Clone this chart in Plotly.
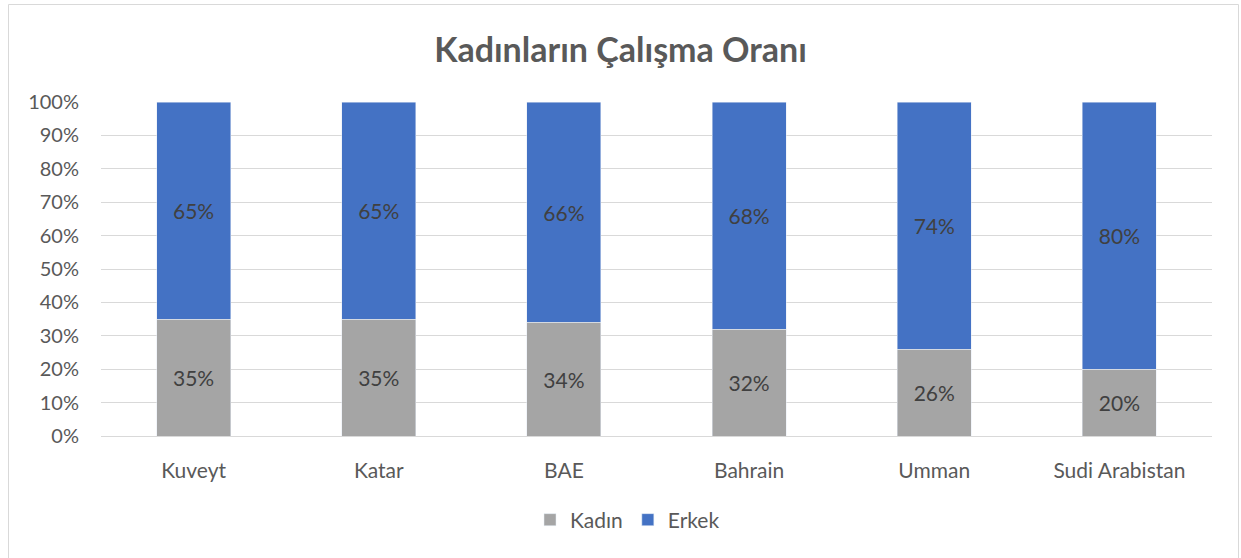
import plotly.graph_objects as go

categories = ["Kuveyt", "Katar", "BAE", "Bahrain", "Umman", "Sudi Arabistan"]
kadin = [35, 35, 34, 32, 26, 20]
erkek = [65, 65, 66, 68, 74, 80]
ytick_vals = [0, 10, 20, 30, 40, 50, 60, 70, 80, 90, 100]
ytick_text = [f"{v}%" for v in ytick_vals]

W, H = 1241, 558
L, R, T, B = 101, 29, 102, 122
pw, ph = W - L - R, H - T - B

FONT = "Lato, 'Noto Sans', sans-serif"

fig = go.Figure()
fig.add_trace(go.Bar(
    x=categories, y=kadin, name="Kadın", marker_color="#A5A5A5",
    text=[f"{v}%" for v in kadin], textposition="inside",
    insidetextanchor="middle", textfont=dict(size=21, color="#404040", family=FONT),
))
fig.add_trace(go.Bar(
    x=categories, y=erkek, name="Erkek", marker_color="#4472C4",
    text=[f"{v}%" for v in erkek], textposition="inside",
    insidetextanchor="middle", textfont=dict(size=21, color="#404040", family=FONT),
))

def px(x):
    return (x - L) / pw

def py(y):
    return (H - B - y) / ph

fig.update_layout(
    barmode="stack",
    bargap=0.6,
    width=W, height=H,
    margin=dict(l=L, r=R, t=T, b=B),
    paper_bgcolor="white", plot_bgcolor="white",
    font=dict(family=FONT, color="#595959", size=20),
    title=dict(text="<b>Kadınların Çalışma Oranı</b>", x=0.5, xanchor="center",
               y=1 - 50 / H, yanchor="middle",
               font=dict(size=34, color="#595959", family=FONT)),
    xaxis=dict(showgrid=False, showline=True, linecolor="#D9D9D9", linewidth=1,
               ticks="", tickfont=dict(size=21, color="#595959"), ticklabelstandoff=16),
    yaxis=dict(range=[0, 100], tickvals=ytick_vals, ticktext=ytick_text,
               showgrid=True, gridcolor="#D9D9D9", gridwidth=1, zeroline=False,
               tickfont=dict(size=20, color="#595959"), ticklabelstandoff=21),
    legend=dict(orientation="h", x=px(530), xanchor="left", y=py(520), yanchor="middle",
                font=dict(size=21, color="#595959"), traceorder="normal",
                itemwidth=30),
    showlegend=True,
    shapes=[dict(type="rect", xref="paper", yref="paper",
                 x0=px(8.5), x1=px(1238.5), y0=py(570), y1=py(4.5),
                 line=dict(color="#D9D9D9", width=1), fillcolor="rgba(0,0,0,0)",
                 layer="below")],
)

fig.write_html("out.html", config={"displayModeBar": False},
               post_script="document.body.style.margin='0px';document.body.style.padding='0px';")
